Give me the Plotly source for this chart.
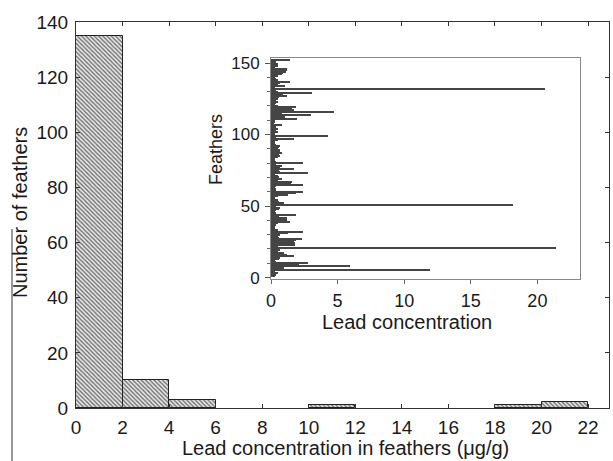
import plotly.graph_objects as go

# Lead concentration (ug/g) per feather, feathers 1..152
feather_ids = list(range(1, 153))
lead_conc = [
    0.3, 0.4, 0.5, 0.3, 11.9, 0.6, 1.0, 5.9, 2.1, 2.75,
    0.4, 0.3, 0.6, 0.7, 1.7, 1.2, 1.0, 0.5, 0.7, 0.4,
    21.4, 0.5, 1.8, 1.8, 1.7, 1.9, 2.3, 0.6, 0.5, 0.7,
    1.3, 2.4, 0.5, 0.2, 0.3, 0.3, 0.4, 0.5, 1.4, 1.2,
    0.8, 1.2, 0.6, 1.9, 0.4, 0.3, 0.4, 0.6, 0.7, 0.4,
    18.2, 1.0, 0.6, 0.5, 0.3, 0.3, 0.5, 1.3, 1.9, 2.4,
    0.4, 0.4, 0.3, 0.4, 2.4, 1.5, 1.55, 0.5, 0.8, 0.6,
    0.5, 0.3, 2.8, 0.7, 0.6, 1.7, 0.7, 0.8, 0.4, 2.4,
    0.4, 0.3, 0.3, 0.5, 0.7, 0.6, 0.8, 0.7, 0.7, 0.5,
    0.6, 0.7, 0.4, 0.3, 0.3, 0.5, 1.7, 0.4, 4.25, 0.3,
    0.3, 0.5, 0.4, 0.55, 0.4, 0.3, 0.8, 0.2, 0.3, 0.3,
    1.95, 1.05, 0.6, 3.0, 0.8, 4.7, 1.7, 1.55, 1.9, 0.5,
    0.3, 0.4, 0.55, 0.4, 0.5, 0.6, 1.2, 0.9, 3.05, 0.5,
    0.4, 20.55, 0.3, 1.05, 0.5, 0.7, 1.4, 0.5, 0.4, 0.3,
    0.55, 0.8, 0.9, 1.1, 1.2, 1.2, 0.3, 0.5, 0.55, 0.3,
    0.4, 1.4,
]

main_xticks = list(range(0, 23, 2))
main_yticks = list(range(0, 141, 20))
inset_xticks = [0, 5, 10, 15, 20]
inset_yticks = [0, 50, 100, 150]

FONT = "Liberation Sans, Arial, sans-serif"
W, H = 613, 461
L, R, T, B = 76, 4, 22, 53
pw, ph = W - L - R, H - T - B


def px(x):
    return (x - L) / pw


def py(y):
    return (H - B - y) / ph


fig = go.Figure()

fig.add_trace(go.Histogram(
    x=lead_conc,
    xbins=dict(start=0, end=22, size=2),
    marker=dict(
        color="#dddddd",
        line=dict(color="#222222", width=1),
        pattern=dict(shape="\\", fgcolor="#666666", bgcolor="#e6e6e6",
                     size=3, solidity=0.4),
    ),
    xaxis="x", yaxis="y",
    showlegend=False,
))

fig.add_trace(go.Bar(
    x=lead_conc, y=feather_ids, orientation="h", width=0.75,
    marker=dict(color="#454545", line=dict(width=0)),
    xaxis="x2", yaxis="y2",
    showlegend=False,
))

fig.update_layout(
    template="none",
    width=W, height=H,
    margin=dict(l=L, r=R, t=T, b=B, autoexpand=False),
    paper_bgcolor="white", plot_bgcolor="white",
    font=dict(family=FONT, color="#1a1a1a"),
    bargap=0,
    xaxis=dict(
        domain=[0, 1], range=[0, 22.9], automargin=False,
        tickvals=main_xticks, ticks="inside", ticklen=4, tickcolor="#333",
        showline=True, linecolor="#333", linewidth=1, mirror="ticks",
        showgrid=False, zeroline=False,
        tickfont=dict(size=19), ticklabelstandoff=2,
    ),
    yaxis=dict(
        domain=[0, 1], range=[0, 140], automargin=False,
        tickvals=main_yticks, ticks="inside", ticklen=4, tickcolor="#333",
        showline=True, linecolor="#333", linewidth=1, mirror="ticks",
        showgrid=False, zeroline=False,
        tickfont=dict(size=19), ticklabelstandoff=3,
    ),
    xaxis2=dict(
        domain=[px(271), px(580)], range=[0, 23.2], anchor="y2", automargin=False,
        tickvals=inset_xticks, ticks="outside", ticklen=4, tickcolor="#666",
        showline=True, linecolor="#888", linewidth=1, mirror=True,
        showgrid=False, zeroline=False,
        tickfont=dict(size=18), ticklabelstandoff=1,
    ),
    yaxis2=dict(
        domain=[py(279), py(58)], range=[-1, 153.5], anchor="x2", automargin=False,
        tickvals=inset_yticks, ticks="outside", ticklen=5, tickcolor="#555",
        minor=dict(dtick=10, ticks="outside", ticklen=3, tickcolor="#666"),
        showline=True, linecolor="#888", linewidth=1, mirror=True,
        showgrid=False, zeroline=False,
        tickfont=dict(size=17), ticklabelstandoff=2,
    ),
    annotations=[
        dict(text="Lead concentration in feathers (\u03bcg/g)", x=px(345), y=py(448),
             xref="paper", yref="paper", showarrow=False,
             xanchor="center", yanchor="middle", font=dict(size=20)),
        dict(text="Number of feathers", x=px(20), y=py(213),
             xref="paper", yref="paper", showarrow=False, textangle=-90,
             xanchor="center", yanchor="middle", font=dict(size=20)),
        dict(text="Lead concentration", x=px(407), y=py(322),
             xref="paper", yref="paper", showarrow=False,
             xanchor="center", yanchor="middle", font=dict(size=20)),
        dict(text="Feathers", x=px(216), y=py(150),
             xref="paper", yref="paper", showarrow=False, textangle=-90,
             xanchor="center", yanchor="middle", font=dict(size=18)),
    ],
    shapes=[
        dict(type="line", xref="paper", yref="paper",
             x0=px(12), x1=px(12), y0=py(229), y1=py(461),
             line=dict(color="#777777", width=1.5)),
    ],
)

fig.write_html(
    "out.html",
    config={"displayModeBar": False},
    post_script="document.body.style.margin='0px';document.body.style.padding='0px';",
)
